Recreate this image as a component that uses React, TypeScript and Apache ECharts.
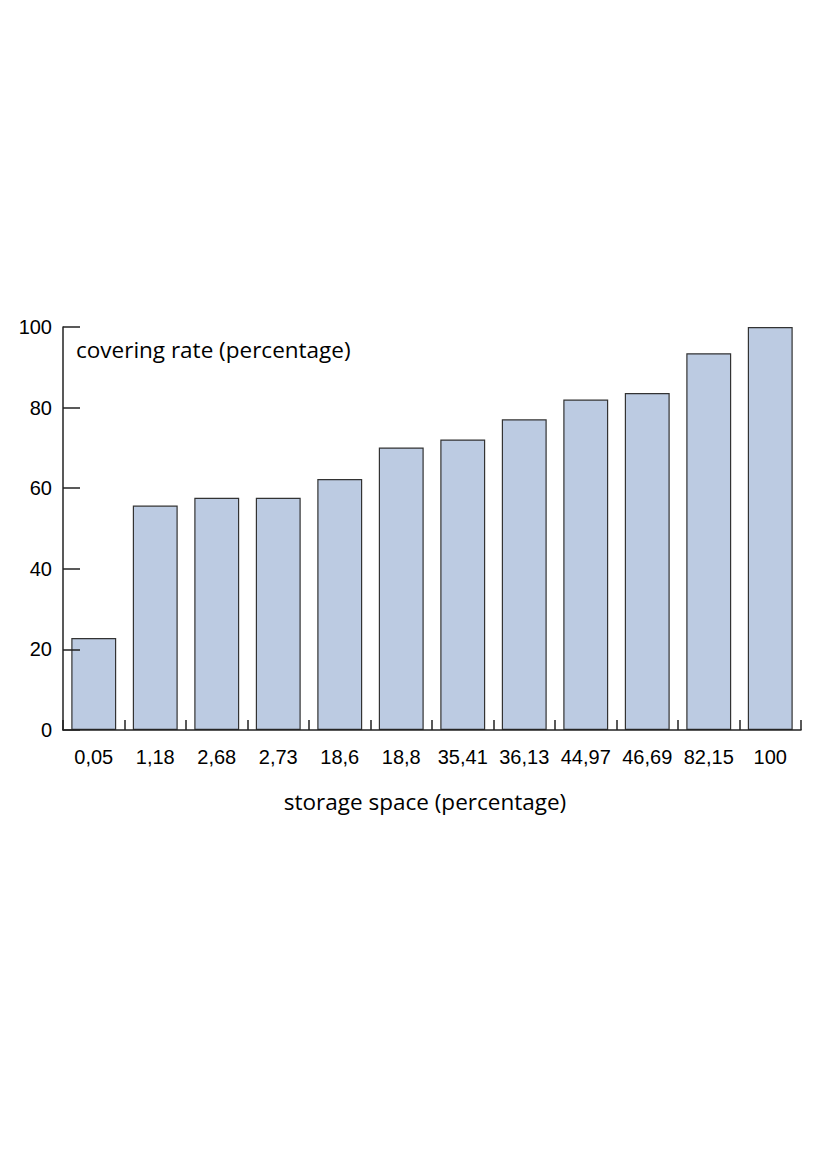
import React, { useEffect, useRef } from "react";
import * as echarts from "echarts";

const categories = ["0,05", "1,18", "2,68", "2,73", "18,6", "18,8", "35,41", "36,13", "44,97", "46,69", "82,15", "100"];
const coveringRate = [22.8, 55.7, 57.6, 57.6, 62.3, 70.1, 72.1, 77.1, 82.0, 83.6, 93.5, 100];
const yTicks = [0, 20, 40, 60, 80, 100];
const yName = "covering rate (percentage)";
const xName = "storage space (percentage)";

export default function App() {
  const ref = useRef<HTMLDivElement>(null);
  useEffect(() => {
    if (!ref.current) return;
    const chart = echarts.init(ref.current, null, { renderer: "svg" });
    const axisColor = "#222222";
    chart.setOption({
      animation: false,
      backgroundColor: "#ffffff",
      grid: { left: 63, right: 26, top: 327, bottom: 440, containLabel: false },
      xAxis: {
        type: "category",
        data: categories,
        boundaryGap: true,
        z: 10,
        axisLine: { show: true, onZero: false, lineStyle: { color: axisColor, width: 1.5 } },
        axisTick: { show: true, inside: true, length: 10, interval: 0, alignWithLabel: false, lineStyle: { color: axisColor, width: 1.5 } },
        axisLabel: { margin: 17, color: "#000", fontSize: 20, fontFamily: "Liberation Sans", interval: 0 },
        splitLine: { show: false },
      },
      yAxis: {
        type: "value",
        min: yTicks[0],
        max: yTicks[yTicks.length - 1],
        interval: 20,
        z: 10,
        axisLine: { show: true, onZero: false, lineStyle: { color: axisColor, width: 1.5 } },
        axisTick: { show: true, inside: true, length: 17, lineStyle: { color: axisColor, width: 1.5 } },
        axisLabel: { margin: 11, color: "#000", fontSize: 20, fontFamily: "Liberation Sans" },
        splitLine: { show: false },
      },
      graphic: [
        {
          type: "text",
          left: 76,
          top: 338,
          style: { text: yName, fontSize: 22.5, fontFamily: "Open Sans", fill: "#000" },
        },
        {
          type: "text",
          x: 425,
          y: 801,
          style: { text: xName, fontSize: 22.5, fontFamily: "Open Sans", fill: "#000", textAlign: "center", textVerticalAlign: "middle" },
        },
      ],
      series: [
        {
          type: "bar",
          data: coveringRate,
          barCategoryGap: "27%",
          itemStyle: { color: "#bccbe2", borderColor: "#333333", borderWidth: 1.2 },
        },
      ],
    });
    return () => chart.dispose();
  }, []);
  return <div ref={ref} style={{ position: "fixed", left: 0, top: 0, width: 827, height: 1170 }} />;
}
